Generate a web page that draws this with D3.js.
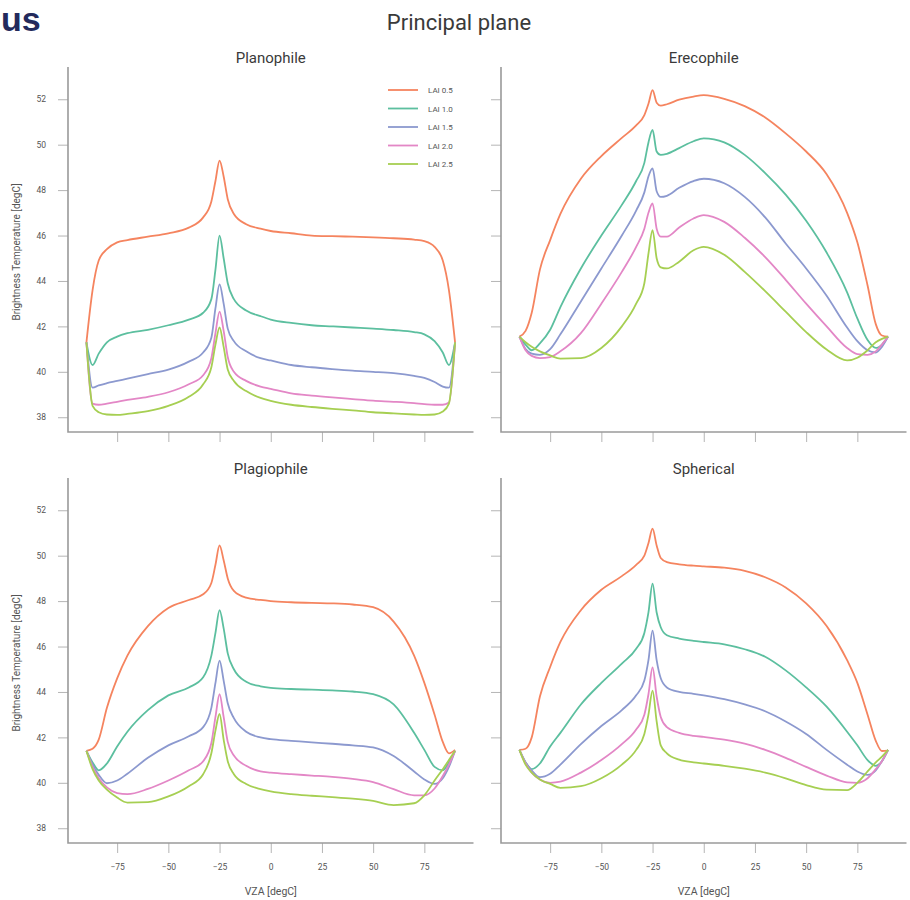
<!DOCTYPE html>
<html>
<head>
<meta charset="utf-8">
<script src="https://cdn.jsdelivr.net/npm/d3@7"></script>
<style>
  html, body { margin: 0; padding: 0; background: #fff; }
  svg { display: block; }
  text { font-family: Roboto, "Noto Sans", sans-serif; }
</style>
</head>
<body>
<svg id="chart" width="910" height="900"></svg>
<script>
// View zenith angles (deg) at which the brightness temperature was sampled
const VZA = [-90, -87, -84, -80, -75, -70, -60, -50, -40, -33, -29, -27, -25, -23, -21, -18, -12, -5, 0, 10, 20, 30, 40, 50, 60, 70, 75, 80, 84, 87, 90];

const laiLabels = ["LAI 0.5", "LAI 1.0", "LAI 1.5", "LAI 2.0", "LAI 2.5"];
const laiColors = ["#f5845f", "#5cbf9f", "#8c99cf", "#e387c6", "#a6cf52"];

const panelTitles = ["Planophile", "Erecophile", "Plagiophile", "Spherical"];
const yTicks = [38, 40, 42, 44, 46, 48, 50, 52];
const xTicks = [-75, -50, -25, 0, 25, 50, 75];

// Brightness temperature [degC], one row per LAI, aligned with VZA
const planophile = [
  [41.3, 43.6, 44.9, 45.4, 45.7, 45.8, 45.95, 46.1, 46.35, 46.8, 47.5, 48.4, 49.3, 48.6, 47.6, 46.95, 46.5, 46.3, 46.2, 46.1, 46.0, 45.97, 45.95, 45.92, 45.88, 45.82, 45.75, 45.5, 44.9, 43.6, 41.3],
  [41.3, 40.3, 40.8, 41.3, 41.55, 41.7, 41.85, 42.05, 42.3, 42.6, 43.2, 44.5, 46.0, 45.0, 43.9, 43.2, 42.7, 42.45, 42.3, 42.15, 42.05, 42.0, 41.95, 41.9, 41.84, 41.75, 41.65, 41.35, 40.85, 40.3, 41.3],
  [41.3, 39.3, 39.4, 39.5, 39.6, 39.7, 39.9, 40.1, 40.45, 40.85, 41.5, 42.8, 43.85, 43.0, 41.9, 41.35, 40.9, 40.6, 40.5, 40.3, 40.2, 40.12, 40.05, 40.0, 39.94, 39.82, 39.73, 39.55, 39.35, 39.3, 41.3],
  [41.3, 38.6, 38.55, 38.6, 38.68, 38.76, 38.9, 39.1, 39.45, 39.85, 40.6, 41.7, 42.65, 41.8, 40.65, 40.0, 39.6, 39.35, 39.25, 39.05, 38.95, 38.87, 38.8, 38.73, 38.68, 38.62, 38.58, 38.55, 38.55, 38.65, 41.3],
  [41.3, 38.5, 38.22, 38.12, 38.1, 38.15, 38.27, 38.5, 38.9, 39.45, 40.2, 41.2, 41.95, 41.1, 40.1, 39.6, 39.15, 38.85, 38.72, 38.55, 38.45, 38.37, 38.3, 38.22, 38.17, 38.12, 38.1, 38.12, 38.25, 38.6, 41.3]
];

const erecophile = [
  [41.55, 41.8, 42.6, 44.5, 45.8, 46.95, 48.5, 49.5, 50.3, 50.85, 51.3, 51.8, 52.4, 51.85, 51.72, 51.78, 51.98, 52.12, 52.18, 52.02, 51.7, 51.2, 50.5, 49.7, 48.7, 47.0, 45.7, 43.8, 42.1, 41.6, 41.55],
  [41.55, 41.2, 40.95, 41.25, 41.85, 42.85, 44.55, 46.0, 47.35, 48.4, 49.2, 50.1, 50.65, 49.7, 49.55, 49.6, 49.85, 50.15, 50.28, 50.1, 49.55, 48.75, 47.8, 46.65, 45.25, 43.5, 42.35, 41.4, 41.05, 41.2, 41.55],
  [41.55, 41.0, 40.8, 40.75, 41.0, 41.65, 43.1, 44.55, 46.0, 47.1, 47.9, 48.6, 48.96, 47.95, 47.7, 47.75, 48.1, 48.4, 48.5, 48.3, 47.7, 46.8, 45.65, 44.55, 43.35, 41.95, 41.35, 40.95, 40.85, 41.1, 41.55],
  [41.55, 40.95, 40.7, 40.6, 40.65, 40.9, 41.7, 43.0, 44.4, 45.5, 46.3, 47.0, 47.42, 46.3, 45.95, 45.95, 46.35, 46.75, 46.9, 46.6, 45.9, 45.05, 44.05, 43.0, 42.0, 41.05, 40.78, 40.75, 40.9, 41.2, 41.55],
  [41.55, 41.3, 41.1, 40.9, 40.72, 40.58, 40.6, 41.05, 42.0, 43.0, 43.9, 45.2, 46.24, 45.0, 44.6, 44.55, 44.85, 45.35, 45.5, 45.15, 44.4, 43.55, 42.65, 41.75, 40.98, 40.5, 40.62, 40.95, 41.3, 41.45, 41.55]
];

const plagiophile = [
  [41.41, 41.5, 41.9, 43.3, 44.6, 45.6, 46.9, 47.7, 48.05, 48.3, 48.8, 49.6, 50.45, 49.8, 49.0, 48.45, 48.15, 48.05, 48.0, 47.95, 47.92, 47.9, 47.85, 47.73, 47.1, 45.6, 44.4, 43.0, 41.8, 41.3, 41.45],
  [41.41, 40.9, 40.55, 40.85, 41.6, 42.25, 43.2, 43.85, 44.2, 44.65, 45.6, 46.6, 47.6, 46.8, 45.7, 45.0, 44.45, 44.25, 44.18, 44.13, 44.1, 44.07, 44.02, 43.9, 43.45, 42.2, 41.45, 40.7, 40.55, 40.9, 41.41],
  [41.41, 40.8, 40.35, 39.98, 40.1, 40.4, 41.1, 41.65, 42.05, 42.45, 43.3, 44.4, 45.38, 44.5, 43.5, 42.85, 42.25, 42.0, 41.92, 41.85, 41.78, 41.72, 41.65, 41.56, 41.18, 40.5, 40.15, 39.95, 40.2, 40.7, 41.41],
  [41.41, 40.7, 40.2, 39.8, 39.55, 39.5, 39.73, 40.1, 40.55, 40.95, 41.75, 42.9, 43.9, 42.9, 41.8, 41.2, 40.75, 40.5, 40.45, 40.38, 40.32, 40.26, 40.17, 40.03, 39.72, 39.45, 39.45, 39.75, 40.3, 40.8, 41.41],
  [41.41, 40.6, 40.1, 39.7, 39.35, 39.13, 39.15, 39.4, 39.85, 40.38, 41.3, 42.3, 43.03, 41.9, 40.95, 40.38, 39.95, 39.72, 39.62, 39.5, 39.43, 39.37, 39.3, 39.2, 39.02, 39.1, 39.45, 40.1, 40.6, 41.0, 41.41]
];

const spherical = [
  [41.45, 41.5, 42.0, 43.8, 45.1, 46.2, 47.6, 48.5, 49.1, 49.6, 50.0, 50.55, 51.19, 50.45, 49.9, 49.72, 49.62, 49.56, 49.53, 49.47, 49.33, 49.05, 48.6, 47.9, 46.9, 45.4, 44.4, 43.0, 41.85, 41.4, 41.42],
  [41.45, 40.9, 40.6, 40.85, 41.6, 42.2, 43.45, 44.4, 45.25, 45.9, 46.6, 47.5, 48.77, 47.5, 46.85, 46.5, 46.35, 46.25, 46.2, 46.1, 45.88, 45.55, 44.95, 44.2, 43.35, 42.25, 41.65, 41.0, 40.75, 40.95, 41.45],
  [41.45, 40.9, 40.55, 40.25, 40.4, 40.8, 41.7, 42.5, 43.2, 43.85, 44.5, 45.4, 46.7, 45.4, 44.6, 44.2, 44.0, 43.92, 43.85, 43.68, 43.45, 43.15, 42.7, 42.15, 41.45, 40.8, 40.5, 40.35, 40.55, 40.95, 41.45],
  [41.45, 40.85, 40.45, 40.15, 40.0, 40.05, 40.45, 41.0, 41.7, 42.35, 43.0, 43.9, 45.08, 43.8, 42.9, 42.45, 42.2, 42.07, 42.02, 41.9, 41.72, 41.45, 41.1, 40.7, 40.32, 40.02, 40.0, 40.2, 40.6, 40.95, 41.45],
  [41.45, 40.8, 40.45, 40.15, 39.95, 39.78, 39.85, 40.2, 40.8, 41.45, 42.15, 43.0, 44.06, 42.7, 41.65, 41.3, 41.02, 40.9, 40.85, 40.75, 40.62, 40.45, 40.2, 39.9, 39.7, 39.68, 40.0, 40.5, 40.9, 41.15, 41.45]
];

const panelData = [planophile, erecophile, plagiophile, spherical];

const svg = d3.select("#chart");
const axisColor = "#9a9a9a";
const textColor = "#555";

// slide heading fragment in the corner
svg.append("text")
  .attr("x", 1).attr("y", 31)
  .attr("text-anchor", "start")
  .style("font-family", "'Liberation Sans', Arial, sans-serif")
  .style("font-weight", 700)
  .style("font-size", "34px")
  .attr("fill", "#232a5c")
  .text("us");

svg.append("text")
  .attr("x", 459).attr("y", 30)
  .attr("text-anchor", "middle")
  .style("font-size", "22px")
  .attr("fill", "#3a3a3a")
  .text("Principal plane");

// plot frames: [left, right, top, bottom]
const frames = [
  [68, 473.5, 72, 432],
  [501, 906.5, 72, 432],
  [68, 473.5, 483, 843],
  [501, 906.5, 483, 843]
];

const line = d3.line().curve(d3.curveMonotoneX);

frames.forEach((f, i) => {
  const [x0, x1, y0, y1] = f;
  const x = d3.scaleLinear().domain([-99, 99]).range([x0, x1]);
  const y = d3.scaleLinear().domain([37.35, 53.2]).range([y1, y0]);
  const isLeft = i % 2 === 0;
  const isBottom = i >= 2;

  const g = svg.append("g");

  // panel title
  g.append("text")
    .attr("x", x(0)).attr("y", y0 - 9)
    .attr("text-anchor", "middle")
    .style("font-size", "15px")
    .attr("fill", "#3a3a3a")
    .text(panelTitles[i]);

  const yAxis = d3.axisLeft(y).tickValues(yTicks).tickSize(10).tickPadding(12)
    .tickFormat(isLeft ? d3.format("d") : () => "");
  const xAxis = d3.axisBottom(x).tickValues(xTicks).tickSize(10).tickPadding(11)
    .tickFormat(isBottom ? d3.format("d") : () => "");

  const ya = g.append("g").attr("transform", `translate(${x0},0)`).call(yAxis);
  const xa = g.append("g").attr("transform", `translate(0,${y1})`).call(xAxis);
  [ya, xa].forEach(a => {
    a.select(".domain").remove();
    a.selectAll(".tick line").attr("stroke", "#b5b5b5").attr("stroke-width", 1);
    a.selectAll(".tick text").attr("fill", textColor).style("font-size", "8.5px")
      .style("font-family", "Roboto, sans-serif");
  });

  // L-shaped axis frame
  g.append("path")
    .attr("d", `M${x0},${y0 - 5}V${y1}H${x1}`)
    .attr("fill", "none")
    .attr("stroke", axisColor)
    .attr("stroke-width", 1.6);

  if (isLeft) {
    g.append("text")
      .attr("transform", `translate(20,${(y0 + y1) / 2}) rotate(-90)`)
      .attr("text-anchor", "middle")
      .style("font-size", "10px")
      .attr("fill", textColor)
      .text("Brightness Temperature [degC]");
  }
  if (isBottom) {
    g.append("text")
      .attr("x", x(0)).attr("y", y1 + 52)
      .attr("text-anchor", "middle")
      .style("font-size", "10.5px")
      .attr("fill", textColor)
      .text("VZA [degC]");
  }

  panelData[i].forEach((vals, s) => {
    const pts = VZA.map((a, k) => [x(a), y(vals[k])]);
    g.append("path")
      .attr("d", line(pts))
      .attr("fill", "none")
      .attr("stroke", laiColors[s])
      .attr("stroke-width", 1.8)
      .attr("stroke-linejoin", "round");
  });

  // legend inside the first panel
  if (i === 0) {
    const lg = g.append("g");
    laiLabels.forEach((lab, s) => {
      const yy = 90 + s * 18.5;
      lg.append("line")
        .attr("x1", 388).attr("x2", 418)
        .attr("y1", yy).attr("y2", yy)
        .attr("stroke", laiColors[s]).attr("stroke-width", 1.8);
      lg.append("text")
        .attr("x", 428).attr("y", yy + 3)
        .style("font-size", "8px")
        .attr("fill", textColor)
        .text(lab);
    });
  }
});
</script>
</body>
</html>
